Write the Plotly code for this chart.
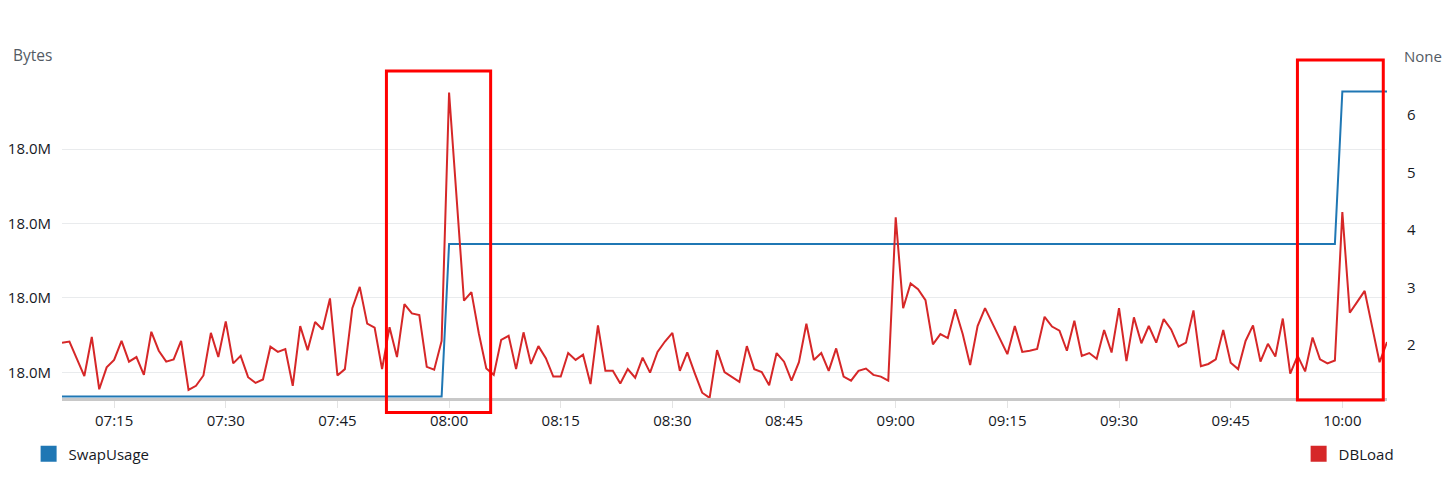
import pandas as pd
import plotly.graph_objects as go

# ---- data ----
START = "2023-01-01 07:08"
N_POINTS = 179  # one point per minute, 07:08 .. 10:06

db_load = [
    2.04, 2.06, 1.76, 1.46, 2.14, 1.23, 1.61, 1.74, 2.07, 1.71,
    1.79, 1.48, 2.23, 1.90, 1.71, 1.75, 2.07, 1.22, 1.29, 1.47,
    2.21, 1.79, 2.41, 1.68, 1.81, 1.44, 1.34, 1.40, 1.97, 1.88,
    1.93, 1.29, 2.33, 1.91, 2.40, 2.27, 2.81, 1.47, 1.58, 2.64,
    3.01, 2.37, 2.30, 1.58, 2.31, 1.79, 2.71, 2.55, 2.52, 1.62,
    1.57, 2.07, 6.39, 4.59, 2.77, 2.92, 2.20, 1.59, 1.48, 2.09,
    2.16, 1.58, 2.22, 1.67, 1.98, 1.77, 1.45, 1.45, 1.86, 1.74,
    1.83, 1.32, 2.34, 1.55, 1.55, 1.33, 1.58, 1.43, 1.78, 1.52,
    1.88, 2.06, 2.21, 1.55, 1.87, 1.51, 1.17, 1.08, 1.91, 1.53,
    1.44, 1.36, 1.98, 1.58, 1.53, 1.30, 1.86, 1.71, 1.38, 1.70,
    2.37, 1.74, 1.86, 1.55, 1.94, 1.45, 1.38, 1.55, 1.59, 1.48,
    1.45, 1.38, 4.22, 2.64, 3.07, 2.97, 2.78, 2.01, 2.19, 2.12,
    2.62, 2.19, 1.65, 2.33, 2.64, 2.38, 2.12, 1.84, 2.33, 1.88,
    1.90, 1.93, 2.49, 2.32, 2.25, 1.90, 2.42, 1.81, 1.86, 1.76,
    2.26, 1.87, 2.64, 1.72, 2.48, 2.03, 2.33, 2.04, 2.45, 2.27,
    1.97, 2.04, 2.60, 1.63, 1.67, 1.75, 2.26, 1.69, 1.58, 2.07,
    2.34, 1.71, 2.02, 1.80, 2.46, 1.50, 1.81, 1.54, 2.13, 1.75,
    1.68, 1.73, 4.31, 2.56, 2.75, 2.94, 2.32, 1.70, 2.05,
]

# SwapUsage (bytes): constant levels and how many minutes each lasts
swap_levels = [18002700, 18010900, 18019100]
swap_counts = [52, 120, 7]

# highlighted time windows (red boxes)
highlight_windows = [
    ("2023-01-01 07:51:35", "2023-01-01 08:05:35", -0.045, 1.022),
    ("2023-01-01 09:53:58", "2023-01-01 10:05:30", -0.006, 1.056),
]

times = pd.date_range(START, periods=N_POINTS, freq="min")
swap_usage = []
for lvl, cnt in zip(swap_levels, swap_counts):
    swap_usage += [lvl] * cnt

BLUE = "#1f77b4"
RED = "#d62728"
FONT = "Open Sans"

fig = go.Figure()
fig.add_trace(go.Scatter(x=times, y=swap_usage, mode="lines",
                         line=dict(color=BLUE, width=2), showlegend=False,
                         yaxis="y"))
fig.add_trace(go.Scatter(x=times, y=db_load, mode="lines",
                         line=dict(color=RED, width=2), showlegend=False,
                         yaxis="y2"))
# legend entries (square swatches)
fig.add_trace(go.Scatter(x=[None], y=[None], mode="markers", name="SwapUsage",
                         marker=dict(symbol="square", size=16, color=BLUE),
                         legend="legend"))
fig.add_trace(go.Scatter(x=[None], y=[None], mode="markers", name="DBLoad",
                         marker=dict(symbol="square", size=16, color=RED),
                         legend="legend2", yaxis="y2"))

for x0, x1, y0, y1 in highlight_windows:
    fig.add_shape(type="rect", xref="x", yref="paper", x0=x0, x1=x1, y0=y0, y1=y1,
                  line=dict(color="#ff0000", width=3), fillcolor="rgba(0,0,0,0)",
                  layer="above")

fig.update_layout(
    width=1437, height=465,
    margin=dict(l=54, r=58, t=70, b=75, autoexpand=False),
    paper_bgcolor="white", plot_bgcolor="white",
    font=dict(family=FONT, size=15, color="#16191f"),
    xaxis=dict(
        type="date", range=[times[0], times[-1]],
        tickformat="%H:%M", dtick=15 * 60 * 1000, tick0="2023-01-01 07:15",
        showgrid=False, showline=True, linecolor="#c8c8c8", linewidth=3,
        ticks="outside", ticklen=7, tickcolor="#e3e3e3", tickwidth=1,
        tickfont=dict(size=15, color="#16191f"), zeroline=False,
    ),
    yaxis=dict(
        range=[18002620, 18019824], tickmode="linear", tick0=18004000, dtick=4000,
        tickformat=".3s", showgrid=True, gridcolor="#e9ebed", gridwidth=1,
        zeroline=False, showline=False, ticks="", ticklabelstandoff=10,
        tickfont=dict(size=15, color="#16191f"),
    ),
    yaxis2=dict(
        overlaying="y", side="right", range=[1.078, 6.643],
        tickmode="linear", tick0=2, dtick=1, showgrid=False, zeroline=False,
        showline=False, ticks="", ticklabelstandoff=19,
        tickfont=dict(size=15, color="#16191f"),
    ),
    legend=dict(x=-0.0252, y=-0.175, xanchor="left", yanchor="middle",
                orientation="h", font=dict(size=15, color="#16191f"),
                itemwidth=30, bgcolor="rgba(0,0,0,0)"),
    legend2=dict(x=0.9333, y=-0.175, xanchor="left", yanchor="middle",
                 orientation="h", font=dict(size=15, color="#16191f"),
                 itemwidth=30, bgcolor="rgba(0,0,0,0)"),
    annotations=[
        dict(text="Bytes", xref="paper", yref="paper", x=-0.0385, y=1.072,
             xanchor="left", yanchor="middle", showarrow=False,
             font=dict(size=15.5, color="#545b64")),
        dict(text="None", xref="paper", yref="paper", x=1.0432, y=1.069,
             xanchor="right", yanchor="middle", showarrow=False,
             font=dict(size=15, color="#545b64")),
    ],
)

fig.write_html("out.html")
